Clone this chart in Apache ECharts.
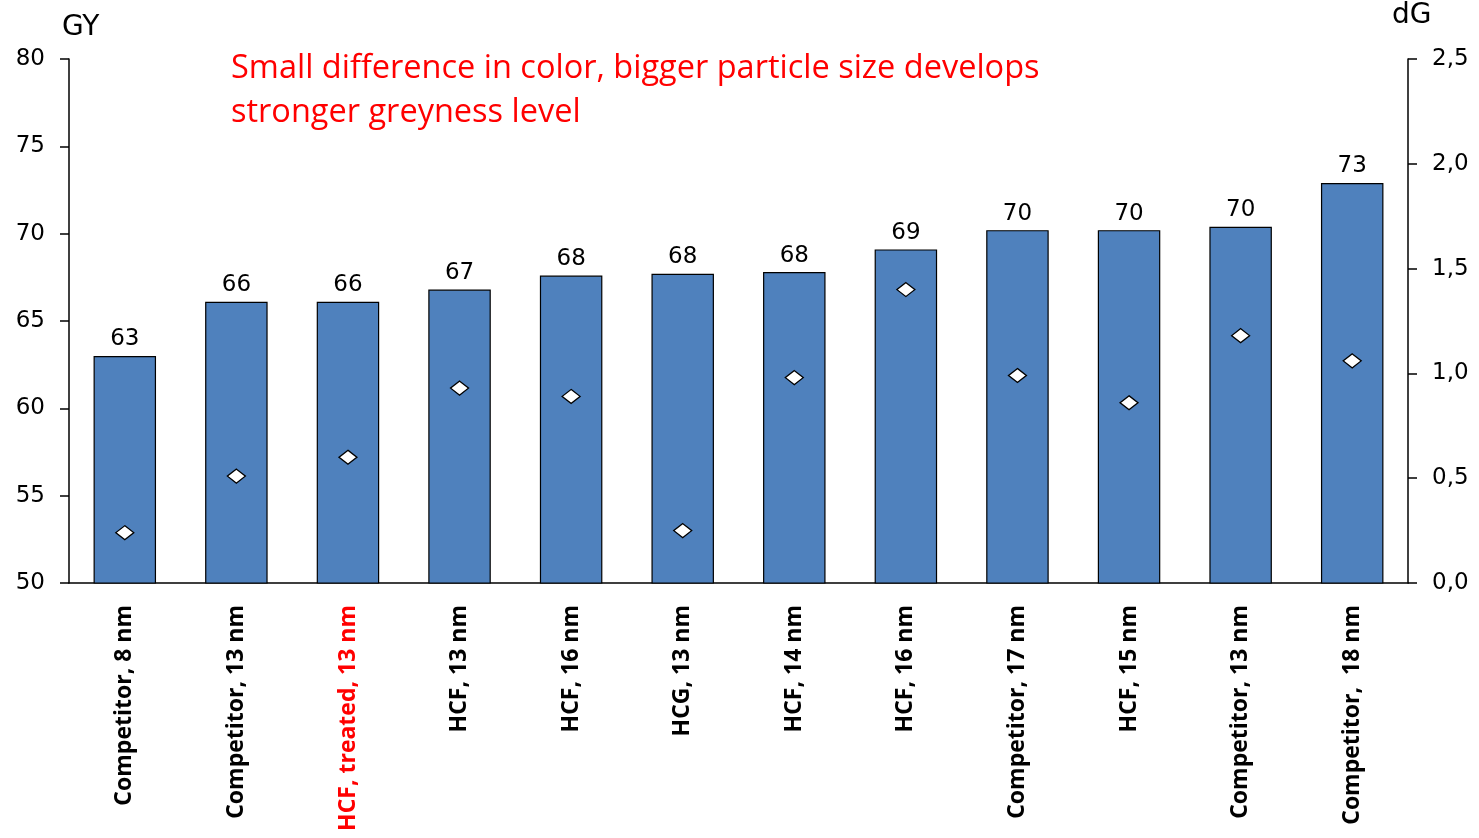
<!DOCTYPE html>
<html>
<head>
<meta charset="utf-8">
<script src="https://cdn.jsdelivr.net/npm/echarts@6/dist/echarts.min.js"></script>
<style>
  html, body { margin: 0; padding: 0; background: #fff; }
  #chart { width: 1479px; height: 838px; }
</style>
</head>
<body>
<div id="chart"></div>
<script>
// Samples along the x axis
const categories = [
  'Competitor, 8 nm', 'Competitor, 13 nm', 'HCF, treated, 13 nm', 'HCF, 13 nm',
  'HCF, 16 nm', 'HCG, 13 nm', 'HCF, 14 nm', 'HCF, 16 nm',
  'Competitor, 17 nm', 'HCF, 15 nm', 'Competitor, 13 nm', 'Competitor,  18 nm'
];
// Greyness level (GY), left axis
const gyValues = [63.0, 66.1, 66.1, 66.8, 67.6, 67.7, 67.8, 69.1, 70.2, 70.2, 70.4, 72.9];
// Colour difference (dG), right axis
const dgValues = [0.24, 0.51, 0.60, 0.93, 0.89, 0.25, 0.98, 1.40, 0.99, 0.86, 1.18, 1.06];
// Category highlighted in red
const highlighted = 2;

const leftTicks = { min: 50, max: 80, interval: 5 };
const rightTicks = { min: 0, max: 2.5, interval: 0.5 };

const chart = echarts.init(document.getElementById('chart'));
const tickFont = 'DejaVu Sans, Verdana, sans-serif';
const labelFont = '"Open Sans", "Noto Sans", sans-serif';

chart.setOption({
  animation: false,
  grid: { left: 69, right: 71, top: 59, bottom: 255, containLabel: false },
  title: {
    text: 'Small difference in color, bigger particle size develops\nstronger greyness level',
    left: 226, top: 42,
    textStyle: { color: '#ff0000', fontFamily: labelFont, fontWeight: 'normal', fontSize: 32.5, lineHeight: 44 }
  },
  graphic: [
    { type: 'text', left: 62, top: 14, style: { text: 'GY', font: '28px ' + tickFont, fill: '#000' } },
    { type: 'text', left: 1392, top: 2, style: { text: 'dG', font: '28px ' + tickFont, fill: '#000' } }
  ],
  xAxis: {
    type: 'category',
    data: categories,
    axisLine: { lineStyle: { color: '#000', width: 1.5 } },
    axisTick: { show: false },
    axisLabel: {
      rotate: 90, margin: 22, interval: 0,
      fontFamily: labelFont, fontWeight: 'bold', fontSize: 23,
      color: (v, i) => i === highlighted ? '#ff0000' : '#000'
    }
  },
  yAxis: [
    {
      type: 'value', position: 'left', ...leftTicks,
      splitLine: { show: false },
      axisLine: { show: true, lineStyle: { color: '#000', width: 1.5 } },
      axisTick: { show: true, inside: false, length: 9, lineStyle: { color: '#000', width: 1.5 } },
      axisLabel: { fontFamily: tickFont, fontSize: 23, color: '#000', margin: 24 }
    },
    {
      type: 'value', position: 'right', ...rightTicks,
      splitLine: { show: false },
      axisLine: { show: true, lineStyle: { color: '#000', width: 1.5 } },
      axisTick: { show: true, inside: false, length: 9, lineStyle: { color: '#000', width: 1.5 } },
      axisLabel: {
        fontFamily: tickFont, fontSize: 23, color: '#000', margin: 24,
        formatter: v => v.toFixed(1).replace('.', ',')
      }
    }
  ],
  series: [
    {
      type: 'bar', yAxisIndex: 0, data: gyValues, barWidth: '56%',
      itemStyle: { color: '#4f81bd', borderColor: '#000', borderWidth: 1.2 },
      label: {
        show: true, position: 'top', distance: 5,
        fontFamily: tickFont, fontSize: 23, color: '#000',
        formatter: p => Math.round(p.value)
      },
      z: 2
    },
    {
      type: 'scatter', yAxisIndex: 1, data: dgValues,
      symbol: 'diamond', symbolSize: [18, 14],
      itemStyle: { color: '#fff', borderColor: '#000', borderWidth: 1.3, opacity: 1 },
      z: 5
    }
  ]
});
</script>
</body>
</html>
